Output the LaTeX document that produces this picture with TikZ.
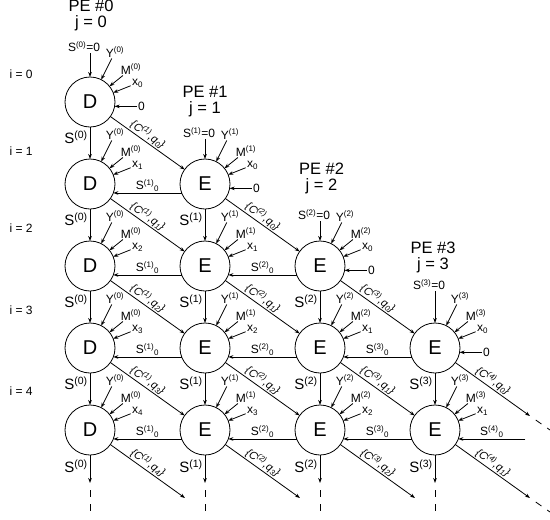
\documentclass[tikz,border=0pt]{standalone}
\usepackage{fontspec}
\setmainfont{Liberation Sans}
\usetikzlibrary{arrows.meta, positioning}
\tikzset{
  >=Stealth,
  flowarrow/.style={-{Stealth[length=5pt, width=3.6pt]}, line width=0.8pt},
  dasharrow/.style={line width=0.8pt, dash pattern=on 7pt off 7pt, dash phase=7pt},
  sepline/.style={line width=0.6pt, dash pattern=on 4pt off 3pt}
}
\begin{document}
\begin{tikzpicture}[line width=0.8pt,
    penode/.style={circle, draw, minimum size=50pt, inner sep=0pt, outer sep=0pt, font=\fontsize{20}{20}\selectfont},
    inlbl/.style={inner sep=1pt, font=\fontsize{12}{13}\selectfont},
    slbl/.style={inner sep=1pt, font=\fontsize{15}{16}\selectfont},
    clbl/.style={sloped, above, inner sep=1pt, font=\fontsize{11}{12}\selectfont\itshape},
    pelbl/.style={align=center, inner sep=0pt, font=\fontsize{16.5}{15.5}\selectfont},
    rowlbl/.style={inner sep=1pt, font=\fontsize{12}{14}\selectfont}]
    \useasboundingbox (0pt,0pt) rectangle (550pt,-520pt);
    % Processing elements
    \node[penode] (d0) at (90pt,-102pt) {D};
    \node[penode, below=32pt of d0] (d1) {D};
    \node[penode, below=32pt of d1] (d2) {D};
    \node[penode, below=32pt of d2] (d3) {D};
    \node[penode, below=32pt of d3] (d4) {D};
    \node[penode, right=65pt of d1] (e11) {E};
    \node[penode, below=32pt of e11] (e21) {E};
    \node[penode, below=32pt of e21] (e31) {E};
    \node[penode, below=32pt of e31] (e41) {E};
    \node[penode, right=65pt of e21] (e22) {E};
    \node[penode, below=32pt of e22] (e32) {E};
    \node[penode, below=32pt of e32] (e42) {E};
    \node[penode, right=65pt of e32] (e33) {E};
    \node[penode, below=32pt of e33] (e43) {E};
    % PE titles
    \node[pelbl, above=46pt of d0, xshift=1pt] (pe0) {PE \#0\\j = 0};
    \node[pelbl, above=42pt of e11] (pe1) {PE \#1\\j = 1};
    \node[pelbl, above=47pt of e22, xshift=1.5pt] (pe2) {PE \#2\\j = 2};
    \node[pelbl, above=50pt of e33, xshift=-2pt] (pe3) {PE \#3\\j = 3};
    % Row labels and separators
    \node[rowlbl, left=31pt of d0, yshift=28pt] (r0) {i = 0};
    \node[rowlbl, left=31pt of d1, yshift=33pt] (r1) {i = 1};
    \node[rowlbl, left=31pt of d2, yshift=38pt] (r2) {i = 2};
    \node[rowlbl, left=31pt of d3, yshift=38pt] (r3) {i = 3};
    \node[rowlbl, left=31pt of d4, yshift=39pt] (r4) {i = 4};
    \draw[sepline] ([shift={(-80pt,5pt)}]d0) -- ([shift={(-29pt,-31pt)}]d0);
    \draw[sepline] ([shift={(-80pt,5pt)}]d1) -- ([shift={(-29pt,-31pt)}]d1);
    \draw[sepline] ([shift={(-80pt,5pt)}]d2) -- ([shift={(-29pt,-31pt)}]d2);
    \draw[sepline] ([shift={(-80pt,5pt)}]d3) -- ([shift={(-29pt,-31pt)}]d3);
    \draw[sepline] ([shift={(-80pt,5pt)}]d4) -- ([shift={(-29pt,-31pt)}]d4);
    % Initial S = 0 inputs
    \node[inlbl, above=24pt of d0, xshift=-6pt] (sd0) {S\textsuperscript{(0)}=0};
    \node[inlbl, above=20pt of e11, xshift=-6pt] (se11) {S\textsuperscript{(1)}=0};
    \node[inlbl, above=20pt of e22, xshift=-6pt] (se22) {S\textsuperscript{(2)}=0};
    \node[inlbl, above=32pt of e33, xshift=-6pt] (se33) {S\textsuperscript{(3)}=0};
    \draw[flowarrow] (d0 |- sd0.south) -- (d0);
    \draw[flowarrow] (e11 |- se11.south) -- (e11);
    \draw[flowarrow] (e22 |- se22.south) -- (e22);
    \draw[flowarrow] (e33 |- se33.south) -- (e33);
    % Zero inputs from the right
    \node[inlbl, right=22pt of d0.-10] (zd0) {0};
    \node[inlbl, right=22pt of e11.-10] (ze11) {0};
    \node[inlbl, right=22pt of e22.-10] (ze22) {0};
    \node[inlbl, right=22pt of e33.-10] (ze33) {0};
    \draw[flowarrow] (zd0) -- (d0.-10);
    \draw[flowarrow] (ze11) -- (e11.-10);
    \draw[flowarrow] (ze22) -- (e22.-10);
    \draw[flowarrow] (ze33) -- (e33.-10);
    % Y, M, x inputs
    \node[inlbl] (yd0) at ([shift={(25pt,50pt)}]d0) {Y\textsuperscript{(0)}}; \draw[flowarrow] (yd0) -- (d0);
    \node[inlbl] (md0) at ([shift={(41pt,33pt)}]d0) {M\textsuperscript{(0)}}; \draw[flowarrow] (md0) -- (d0);
    \node[inlbl] (xd0) at ([shift={(47.5pt,19pt)}]d0) {x\textsubscript{0}}; \draw[flowarrow] (xd0) -- (d0);
    \node[inlbl] (yd1) at ([shift={(25pt,50pt)}]d1) {Y\textsuperscript{(0)}}; \draw[flowarrow] (yd1) -- (d1);
    \node[inlbl] (md1) at ([shift={(41pt,33pt)}]d1) {M\textsuperscript{(0)}}; \draw[flowarrow] (md1) -- (d1);
    \node[inlbl] (xd1) at ([shift={(47.5pt,19pt)}]d1) {x\textsubscript{1}}; \draw[flowarrow] (xd1) -- (d1);
    \node[inlbl] (yd2) at ([shift={(25pt,50pt)}]d2) {Y\textsuperscript{(0)}}; \draw[flowarrow] (yd2) -- (d2);
    \node[inlbl] (md2) at ([shift={(41pt,33pt)}]d2) {M\textsuperscript{(0)}}; \draw[flowarrow] (md2) -- (d2);
    \node[inlbl] (xd2) at ([shift={(47.5pt,19pt)}]d2) {x\textsubscript{2}}; \draw[flowarrow] (xd2) -- (d2);
    \node[inlbl] (yd3) at ([shift={(25pt,50pt)}]d3) {Y\textsuperscript{(0)}}; \draw[flowarrow] (yd3) -- (d3);
    \node[inlbl] (md3) at ([shift={(41pt,33pt)}]d3) {M\textsuperscript{(0)}}; \draw[flowarrow] (md3) -- (d3);
    \node[inlbl] (xd3) at ([shift={(47.5pt,19pt)}]d3) {x\textsubscript{3}}; \draw[flowarrow] (xd3) -- (d3);
    \node[inlbl] (yd4) at ([shift={(25pt,50pt)}]d4) {Y\textsuperscript{(0)}}; \draw[flowarrow] (yd4) -- (d4);
    \node[inlbl] (md4) at ([shift={(41pt,33pt)}]d4) {M\textsuperscript{(0)}}; \draw[flowarrow] (md4) -- (d4);
    \node[inlbl] (xd4) at ([shift={(47.5pt,19pt)}]d4) {x\textsubscript{4}}; \draw[flowarrow] (xd4) -- (d4);
    \node[inlbl] (ye11) at ([shift={(25pt,50pt)}]e11) {Y\textsuperscript{(1)}}; \draw[flowarrow] (ye11) -- (e11);
    \node[inlbl] (me11) at ([shift={(41pt,33pt)}]e11) {M\textsuperscript{(1)}}; \draw[flowarrow] (me11) -- (e11);
    \node[inlbl] (xe11) at ([shift={(47.5pt,19pt)}]e11) {x\textsubscript{0}}; \draw[flowarrow] (xe11) -- (e11);
    \node[inlbl] (ye21) at ([shift={(25pt,50pt)}]e21) {Y\textsuperscript{(1)}}; \draw[flowarrow] (ye21) -- (e21);
    \node[inlbl] (me21) at ([shift={(41pt,33pt)}]e21) {M\textsuperscript{(1)}}; \draw[flowarrow] (me21) -- (e21);
    \node[inlbl] (xe21) at ([shift={(47.5pt,19pt)}]e21) {x\textsubscript{1}}; \draw[flowarrow] (xe21) -- (e21);
    \node[inlbl] (ye31) at ([shift={(25pt,50pt)}]e31) {Y\textsuperscript{(1)}}; \draw[flowarrow] (ye31) -- (e31);
    \node[inlbl] (me31) at ([shift={(41pt,33pt)}]e31) {M\textsuperscript{(1)}}; \draw[flowarrow] (me31) -- (e31);
    \node[inlbl] (xe31) at ([shift={(47.5pt,19pt)}]e31) {x\textsubscript{2}}; \draw[flowarrow] (xe31) -- (e31);
    \node[inlbl] (ye41) at ([shift={(25pt,50pt)}]e41) {Y\textsuperscript{(1)}}; \draw[flowarrow] (ye41) -- (e41);
    \node[inlbl] (me41) at ([shift={(41pt,33pt)}]e41) {M\textsuperscript{(1)}}; \draw[flowarrow] (me41) -- (e41);
    \node[inlbl] (xe41) at ([shift={(47.5pt,19pt)}]e41) {x\textsubscript{3}}; \draw[flowarrow] (xe41) -- (e41);
    \node[inlbl] (ye22) at ([shift={(25pt,50pt)}]e22) {Y\textsuperscript{(2)}}; \draw[flowarrow] (ye22) -- (e22);
    \node[inlbl] (me22) at ([shift={(41pt,33pt)}]e22) {M\textsuperscript{(2)}}; \draw[flowarrow] (me22) -- (e22);
    \node[inlbl] (xe22) at ([shift={(47.5pt,19pt)}]e22) {x\textsubscript{0}}; \draw[flowarrow] (xe22) -- (e22);
    \node[inlbl] (ye32) at ([shift={(25pt,50pt)}]e32) {Y\textsuperscript{(2)}}; \draw[flowarrow] (ye32) -- (e32);
    \node[inlbl] (me32) at ([shift={(41pt,33pt)}]e32) {M\textsuperscript{(2)}}; \draw[flowarrow] (me32) -- (e32);
    \node[inlbl] (xe32) at ([shift={(47.5pt,19pt)}]e32) {x\textsubscript{1}}; \draw[flowarrow] (xe32) -- (e32);
    \node[inlbl] (ye42) at ([shift={(25pt,50pt)}]e42) {Y\textsuperscript{(2)}}; \draw[flowarrow] (ye42) -- (e42);
    \node[inlbl] (me42) at ([shift={(41pt,33pt)}]e42) {M\textsuperscript{(2)}}; \draw[flowarrow] (me42) -- (e42);
    \node[inlbl] (xe42) at ([shift={(47.5pt,19pt)}]e42) {x\textsubscript{2}}; \draw[flowarrow] (xe42) -- (e42);
    \node[inlbl] (ye33) at ([shift={(25pt,50pt)}]e33) {Y\textsuperscript{(3)}}; \draw[flowarrow] (ye33) -- (e33);
    \node[inlbl] (me33) at ([shift={(41pt,33pt)}]e33) {M\textsuperscript{(3)}}; \draw[flowarrow] (me33) -- (e33);
    \node[inlbl] (xe33) at ([shift={(47.5pt,19pt)}]e33) {x\textsubscript{0}}; \draw[flowarrow] (xe33) -- (e33);
    \node[inlbl] (ye43) at ([shift={(25pt,50pt)}]e43) {Y\textsuperscript{(3)}}; \draw[flowarrow] (ye43) -- (e43);
    \node[inlbl] (me43) at ([shift={(41pt,33pt)}]e43) {M\textsuperscript{(3)}}; \draw[flowarrow] (me43) -- (e43);
    \node[inlbl] (xe43) at ([shift={(47.5pt,19pt)}]e43) {x\textsubscript{1}}; \draw[flowarrow] (xe43) -- (e43);
    % Vertical S flow
    \draw[flowarrow] (d0) -- (d1) node[slbl, pos=0.33, left=1pt] {S\textsuperscript{(0)}};
    \draw[flowarrow] (d1) -- (d2) node[slbl, pos=0.33, left=1pt] {S\textsuperscript{(0)}};
    \draw[flowarrow] (d2) -- (d3) node[slbl, pos=0.33, left=1pt] {S\textsuperscript{(0)}};
    \draw[flowarrow] (d3) -- (d4) node[slbl, pos=0.33, left=1pt] {S\textsuperscript{(0)}};
    \draw[flowarrow] (e11) -- (e21) node[slbl, pos=0.33, left=1pt] {S\textsuperscript{(1)}};
    \draw[flowarrow] (e21) -- (e31) node[slbl, pos=0.33, left=1pt] {S\textsuperscript{(1)}};
    \draw[flowarrow] (e31) -- (e41) node[slbl, pos=0.33, left=1pt] {S\textsuperscript{(1)}};
    \draw[flowarrow] (e22) -- (e32) node[slbl, pos=0.33, left=1pt] {S\textsuperscript{(2)}};
    \draw[flowarrow] (e32) -- (e42) node[slbl, pos=0.33, left=1pt] {S\textsuperscript{(2)}};
    \draw[flowarrow] (e33) -- (e43) node[slbl, pos=0.33, left=1pt] {S\textsuperscript{(3)}};
    % Outputs at the bottom
    \coordinate[below=28pt of d4] (vd4);  \coordinate[below=58pt of d4] (wd4);
    \coordinate[below=28pt of e41] (ve41); \coordinate[below=58pt of e41] (we41);
    \coordinate[below=28pt of e42] (ve42); \coordinate[below=58pt of e42] (we42);
    \coordinate[below=28pt of e43] (ve43); \coordinate[below=58pt of e43] (we43);
    \draw[flowarrow] (d4) -- (vd4) node[slbl, pos=0.4, left=1pt] {S\textsuperscript{(0)}};
    \draw[flowarrow] (e41) -- (ve41) node[slbl, pos=0.4, left=1pt] {S\textsuperscript{(1)}};
    \draw[flowarrow] (e42) -- (ve42) node[slbl, pos=0.4, left=1pt] {S\textsuperscript{(2)}};
    \draw[flowarrow] (e43) -- (ve43) node[slbl, pos=0.4, left=1pt] {S\textsuperscript{(3)}};
    \draw[dasharrow] (vd4) -- (wd4);
    \draw[dasharrow] (ve41) -- (we41);
    \draw[dasharrow] (ve42) -- (we42);
    \draw[dasharrow] (ve43) -- (we43);
    % Horizontal S_0 flow
    \draw[flowarrow] (e11.201) -- (d1.-21) node[inlbl, midway, above] {S\textsuperscript{(1)}\textsubscript{0}};
    \draw[flowarrow] (e21.201) -- (d2.-21) node[inlbl, midway, above] {S\textsuperscript{(1)}\textsubscript{0}};
    \draw[flowarrow] (e31.201) -- (d3.-21) node[inlbl, midway, above] {S\textsuperscript{(1)}\textsubscript{0}};
    \draw[flowarrow] (e41.201) -- (d4.-21) node[inlbl, midway, above] {S\textsuperscript{(1)}\textsubscript{0}};
    \draw[flowarrow] (e22.201) -- (e21.-21) node[inlbl, midway, above] {S\textsuperscript{(2)}\textsubscript{0}};
    \draw[flowarrow] (e32.201) -- (e31.-21) node[inlbl, midway, above] {S\textsuperscript{(2)}\textsubscript{0}};
    \draw[flowarrow] (e42.201) -- (e41.-21) node[inlbl, midway, above] {S\textsuperscript{(2)}\textsubscript{0}};
    \draw[flowarrow] (e33.201) -- (e32.-21) node[inlbl, midway, above] {S\textsuperscript{(3)}\textsubscript{0}};
    \draw[flowarrow] (e43.201) -- (e42.-21) node[inlbl, midway, above] {S\textsuperscript{(3)}\textsubscript{0}};
    \coordinate[right=67pt of e43.-21] (s4);
    \draw[flowarrow] (s4) -- (e43.-21) node[inlbl, midway, above] {S\textsuperscript{(4)}\textsubscript{0}};
    % Diagonal {C, q} flow
    \draw[flowarrow] (d0) -- (e11) node[clbl, pos=0.45] {\{C\textsuperscript{(1)},q\textsubscript{0}\}};
    \draw[flowarrow] (d1) -- (e21) node[clbl, pos=0.45] {\{C\textsuperscript{(1)},q\textsubscript{1}\}};
    \draw[flowarrow] (d2) -- (e31) node[clbl, pos=0.45] {\{C\textsuperscript{(1)},q\textsubscript{2}\}};
    \draw[flowarrow] (d3) -- (e41) node[clbl, pos=0.45] {\{C\textsuperscript{(1)},q\textsubscript{3}\}};
    \draw[flowarrow] (e11) -- (e22) node[clbl, pos=0.45] {\{C\textsuperscript{(2)},q\textsubscript{0}\}};
    \draw[flowarrow] (e21) -- (e32) node[clbl, pos=0.45] {\{C\textsuperscript{(2)},q\textsubscript{1}\}};
    \draw[flowarrow] (e31) -- (e42) node[clbl, pos=0.45] {\{C\textsuperscript{(2)},q\textsubscript{2}\}};
    \draw[flowarrow] (e22) -- (e33) node[clbl, pos=0.45] {\{C\textsuperscript{(3)},q\textsubscript{0}\}};
    \draw[flowarrow] (e32) -- (e43) node[clbl, pos=0.45] {\{C\textsuperscript{(3)},q\textsubscript{1}\}};
    \coordinate (cd4) at ([shift={(95pt,-68pt)}]d4);
    \coordinate (ce41) at ([shift={(95pt,-68pt)}]e41);
    \coordinate (ce42) at ([shift={(95pt,-68pt)}]e42);
    \coordinate (ce33) at ([shift={(95pt,-68pt)}]e33);
    \coordinate (ce43) at ([shift={(95pt,-68pt)}]e43);
    \coordinate (fe33) at ([shift={(115pt,-82pt)}]e33);
    \coordinate (fe43) at ([shift={(115pt,-82pt)}]e43);
    \draw[flowarrow] (d4) -- (cd4) node[clbl, pos=0.45] {\{C\textsuperscript{(1)},q\textsubscript{4}\}};
    \draw[flowarrow] (e41) -- (ce41) node[clbl, pos=0.45] {\{C\textsuperscript{(2)},q\textsubscript{3}\}};
    \draw[flowarrow] (e42) -- (ce42) node[clbl, pos=0.45] {\{C\textsuperscript{(3)},q\textsubscript{2}\}};
    \draw[flowarrow] (e33) -- (ce33) node[clbl, pos=0.45] {\{C\textsuperscript{(4)},q\textsubscript{0}\}};
    \draw[flowarrow] (e43) -- (ce43) node[clbl, pos=0.45] {\{C\textsuperscript{(4)},q\textsubscript{1}\}};
    \draw[dasharrow] (ce33) -- (fe33);
    \draw[dasharrow] (ce43) -- (fe43);
\end{tikzpicture}
\end{document}
